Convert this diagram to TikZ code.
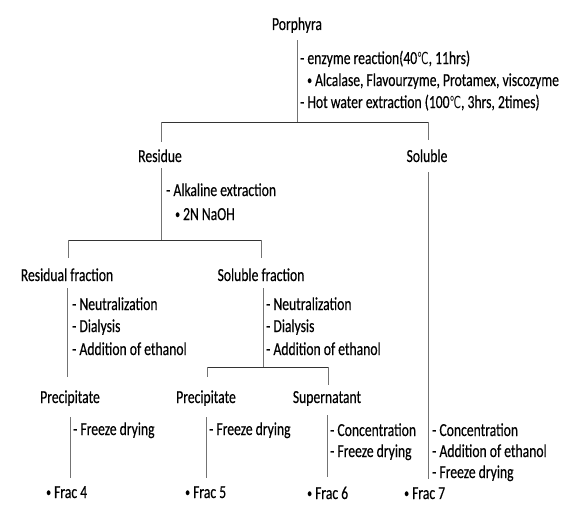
\documentclass[tikz,border=0pt]{standalone}
\usepackage{fontspec}
\setmainfont{Carlito}[FakeStretch=0.745, FakeBold=0.3]
\newfontfamily\symf{DejaVu Sans}[FakeStretch=0.62]
\newcommand\mytxt{\fontsize{18.3}{22}\selectfont}
\newcommand\degc{{\symf\fontsize{16.5}{18}\selectfont ℃}}
\newcommand\bul{\raisebox{1.6pt}{\fontsize{13}{14}\selectfont •}}
\begin{document}
\begin{tikzpicture}[x=1pt,y=-1pt,
  tnode/.style={inner sep=0pt, text height=12pt, text depth=3pt, anchor=base, font=\mytxt},
  fnode/.style={tnode, anchor=base west},
  item/.style={inner sep=0pt, anchor=base west, font=\mytxt},
  vline/.style={draw=black!55, line width=0.8pt},
  hline/.style={draw=black!80, line width=1pt}]
\useasboundingbox (0,0) rectangle (576,506);
% tree nodes
\node[tnode] (porph) at (297,30) {Porphyra};
\node[item] (t1) at (300,64) {- enzyme reaction(40\degc, 11hrs)};
\node[item] (t2) at (307,86) {\bul\ Alcalase, Flavourzyme, Protamex, viscozyme};
\node[item] (t3) at (300,108) {- Hot water extraction (100\degc, 3hrs, 2times)};
\node[tnode] (res) at (160,162) {Residue};
\node[tnode] (sol) at (427,162) {Soluble};
\node[item] (t4) at (166,196) {- Alkaline extraction};
\node[item] (t5) at (175,220) {\bul\ 2N NaOH};
\node[tnode] (resf) at (67,281) {Residual fraction};
\node[tnode] (solf) at (261,281) {Soluble fraction};
\node[item] (t6) at (72,310) {- Neutralization};
\node[item] (t7) at (72,332) {- Dialysis};
\node[item] (t8) at (72,355) {- Addition of ethanol};
\node[item] (t9) at (266,310) {- Neutralization};
\node[item] (t10) at (266,332) {- Dialysis};
\node[item] (t11) at (266,355) {- Addition of ethanol};
\node[tnode] (pl) at (70,403) {Precipitate};
\node[tnode] (pm) at (206,403) {Precipitate};
\node[tnode] (sup) at (327,403) {Supernatant};
\node[item] (t12) at (73,435) {- Freeze drying};
\node[item] (t13) at (209,435) {- Freeze drying};
\node[item] (t14) at (330,436) {- Concentration};
\node[item] (t15) at (330,457) {- Freeze drying};
\node[item] (t16) at (432,436) {- Concentration};
\node[item] (t17) at (432,457) {- Addition of ethanol};
\node[item] (t18) at (432,478) {- Freeze drying};
\node[fnode] (f4) at (46,498) {\bul\ Frac 4};
\node[fnode] (f5) at (185,498) {\bul\ Frac 5};
\node[fnode] (f6) at (307,499) {\bul\ Frac 6};
\node[fnode] (f7) at (404,499) {\bul\ Frac 7};
% junctions
\coordinate (j1) at (297,122);
\coordinate (jl) at (161,122);
\coordinate (jr) at (428,122);
\coordinate (j2) at (161,240);
\coordinate (j2l) at (68,240);
\coordinate (j2r) at (261,240);
\coordinate (j3) at (263,367);
\coordinate (j3l) at (207,367);
\coordinate (j3r) at (328,367);
% connectors
\draw[vline, shorten <=7pt] (porph.south) -- (j1);
\draw[hline] (jl) -- (jr);
\draw[vline, shorten >=8pt] (jl) -- (jl |- res.north);
\draw[vline, shorten >=10pt] (jr) -- (jr |- sol.north);
\draw[vline, shorten <=3pt] (res.south -| j2) -- (j2);
\draw[vline, shorten <=7pt, shorten >=8pt] (sol.south -| jr) -- (jr |- f7.north);
\draw[hline] (j2l) -- (j2r);
\draw[vline, shorten >=11pt] (j2l) -- (j2l |- resf.north);
\draw[vline, shorten >=11pt] (j2r) -- (j2r |- solf.north);
\draw[vline, shorten <=4pt, shorten >=14pt] (resf.south) -- (resf.south |- pl.north);
\draw[vline, shorten <=4pt] (solf.south -| j3) -- (j3);
\draw[hline] (j3l) -- (j3r);
\draw[vline, shorten >=14pt] (j3l) -- (j3l |- pm.north);
\draw[vline, shorten >=6pt] (j3r) -- (j3r |- sup.north);
\draw[vline, shorten <=11pt, shorten >=8pt] (pl.south) -- (pl.south |- f4.north);
\draw[vline, shorten <=11pt, shorten >=8pt] (pm.south) -- (pm.south |- f5.north);
\draw[vline, shorten <=9pt, shorten >=10pt] (sup.south) -- (sup.south |- f6.north);
\end{tikzpicture}
\end{document}
